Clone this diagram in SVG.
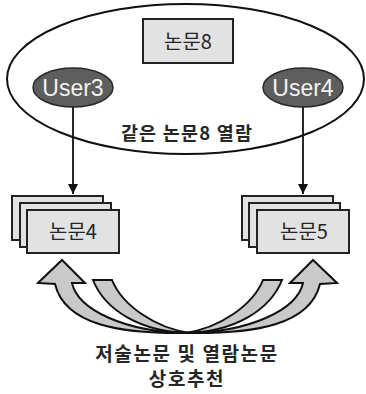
<svg xmlns="http://www.w3.org/2000/svg" width="366" height="394" viewBox="0 0 366 394">
  <style>
    .ko { font-family: "Noto Sans CJK KR", "Noto Sans", sans-serif; fill: #262626; text-anchor: middle; }
    .box { fill: #e2e2e2; stroke: #222; stroke-width: 2; }
    .user { fill: #5e5e5e; stroke: #2a2a2a; stroke-width: 1.5; }
    .utxt { font-family: "Liberation Sans", Arial, sans-serif; font-size: 23px; fill: #f2f2f2; text-anchor: middle; }
    .link { stroke: #111; stroke-width: 1.8; fill: none; }
    .bend { fill: #c9c9c9; stroke: #111; stroke-width: 2; stroke-linejoin: miter; }
  </style>
  <defs>
    <marker id="tip" viewBox="0 0 10 10" refX="10" refY="5" markerWidth="11" markerHeight="10" markerUnits="userSpaceOnUse" orient="auto">
      <path d="M0,0 L10,5 L0,10 Z" fill="#111"/>
    </marker>
    <!-- one half of the curved pair: large arrow with head plus the thin wedge beside it -->
    <g id="bendPair">
      <path class="bend" d="M 188 333 C 120 334, 65 325, 55 284 L 38 283 L 62 260 L 85 283 L 72 283 C 78 310, 125 332, 188 333 Z"/>
      <path class="bend" d="M 190 333 C 140 332, 105 310, 93 280 L 112 280 C 122 305, 155 328, 190 333 Z"/>
    </g>
  </defs>

  <!-- shared viewing group -->
  <g id="group">
    <ellipse cx="185.5" cy="79" rx="178.5" ry="75" fill="#fff" stroke="#111" stroke-width="2"/>
    <text class="ko" x="187" y="140" font-size="18.5" font-weight="bold" letter-spacing="1.2">같은 논문8 열람</text>
  </g>

  <g id="paper8">
    <rect class="box" x="143" y="19" width="90" height="44"/>
    <text class="ko" x="188" y="49" font-size="20">논문8</text>
  </g>

  <g id="user3">
    <ellipse class="user" cx="73" cy="87.5" rx="40" ry="19.5"/>
    <text class="utxt" x="73" y="96">User3</text>
  </g>

  <g id="user4">
    <ellipse class="user" cx="303" cy="87.5" rx="40" ry="19.5"/>
    <text class="utxt" x="303" y="96">User4</text>
  </g>

  <g id="paper4">
    <rect class="box" x="12" y="196" width="91" height="44"/>
    <rect class="box" x="20" y="203" width="91" height="44"/>
    <rect class="box" x="27" y="210" width="92" height="43"/>
    <text class="ko" x="73" y="239" font-size="20">논문4</text>
  </g>

  <g id="paper5">
    <rect class="box" x="242" y="196" width="91" height="44"/>
    <rect class="box" x="249" y="203" width="91" height="44"/>
    <rect class="box" x="257" y="210" width="92" height="43"/>
    <text class="ko" x="304" y="239" font-size="20">논문5</text>
  </g>

  <g id="connectors">
    <line class="link" x1="73" y1="107" x2="73" y2="194" marker-end="url(#tip)"/>
    <line class="link" x1="303" y1="107" x2="303" y2="194" marker-end="url(#tip)"/>
    <use href="#bendPair"/>
    <use href="#bendPair" transform="translate(375,0) scale(-1,1)"/>
  </g>

  <g id="caption">
    <text class="ko" x="187" y="361" font-size="19" font-weight="bold" letter-spacing="1.6">저술논문 및 열람논문</text>
    <text class="ko" x="187" y="386" font-size="19" font-weight="bold" letter-spacing="1.6">상호추천</text>
  </g>
</svg>
